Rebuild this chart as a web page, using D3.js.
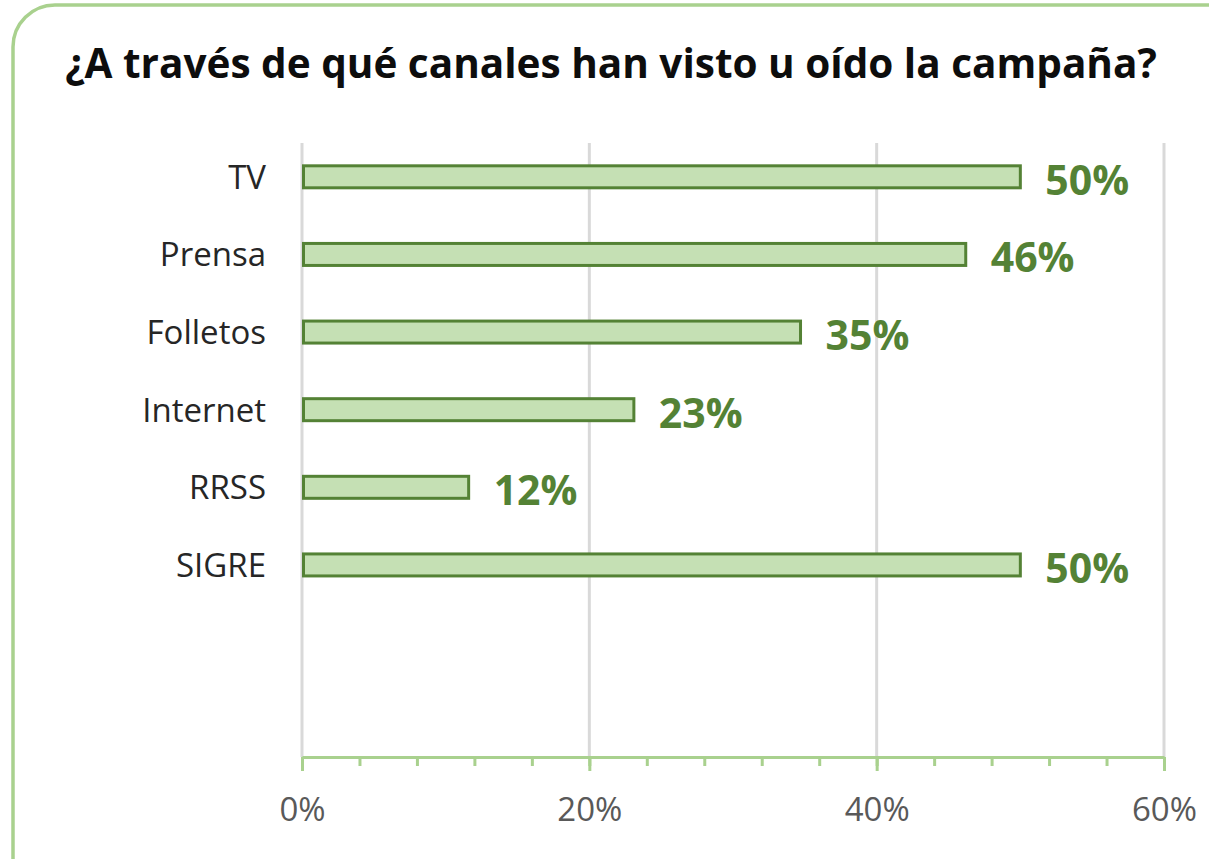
<!DOCTYPE html>
<html>
<head>
<meta charset="utf-8">
<script src="https://cdn.jsdelivr.net/npm/d3@7"></script>
<style>
  body { margin: 0; background: #fff; }
  svg { display: block; }
</style>
</head>
<body>
<div id="container"></div>
<script>
/* CONSTANTS AND GLOBALS */
const width = 1209,
  height = 859;

// data
const categories = ["TV", "Prensa", "Folletos", "Internet", "RRSS", "SIGRE", "", " "];
const values = [0.50, 0.462, 0.347, 0.231, 0.116, 0.50];
const tickValues = [0, 0.2, 0.4, 0.6];
const minorTicks = d3.range(0, 0.6001, 0.04);

const title = "¿A través de qué canales han visto u oído la campaña?";

const font = "'Open Sans', sans-serif";

const svg = d3.select("#container")
  .append("svg")
  .attr("width", width)
  .attr("height", height);

// frame
svg.append("rect")
  .attr("x", 13)
  .attr("y", 5)
  .attr("width", 1240)
  .attr("height", 900)
  .attr("rx", 42)
  .attr("fill", "#fff")
  .attr("stroke", "#a9d18e")
  .attr("stroke-width", 3.5);

/* SCALES */
const xScale = d3.scaleLinear()
  .domain([0, 0.6])
  .range([302, 1164]);

const yScale = d3.scaleBand()
  .domain(categories)
  .range([138, 759])
  .paddingInner(0)
  .paddingOuter(0);

const barH = 22;

// gridlines
svg.append("g")
  .selectAll("line")
  .data(tickValues)
  .join("line")
  .attr("x1", d => xScale(d))
  .attr("x2", d => xScale(d))
  .attr("y1", 143)
  .attr("y2", 757)
  .attr("stroke", "#d9d9d9")
  .attr("stroke-width", 3);

// bars
const rows = values.map((v, i) => ({ cat: categories[i], v }));

svg.selectAll(".bar")
  .data(rows)
  .join("rect")
  .attr("class", "bar")
  .attr("x", xScale(0) + 1.5)
  .attr("y", d => yScale(d.cat) + yScale.bandwidth() / 2 - barH / 2)
  .attr("width", d => xScale(d.v) - xScale(0) - 1.5)
  .attr("height", barH)
  .attr("fill", "#c5e0b4")
  .attr("stroke", "#548235")
  .attr("stroke-width", 3);

// value labels
svg.selectAll(".val")
  .data(rows)
  .join("text")
  .attr("class", "val")
  .attr("x", d => xScale(d.v) + 25)
  .attr("y", d => yScale(d.cat) + yScale.bandwidth() / 2 + 18)
  .attr("fill", "#548235")
  .style("font-family", font)
  .style("font-weight", "bold")
  .style("font-size", "41px")
  .text(d => Math.round(d.v * 100) + "%");

// category axis
const yAxis = svg.append("g")
  .attr("transform", `translate(${xScale(0)},0)`)
  .call(d3.axisLeft(yScale).tickSize(0).tickPadding(36));
yAxis.select(".domain").remove();
yAxis.selectAll("text")
  .attr("fill", "#262626")
  .attr("dy", "0.36em")
  .style("font-family", font)
  .style("font-size", "33px");

// x axis: minor ticks
const axisY = 757;
svg.append("g")
  .attr("transform", `translate(0,${axisY})`)
  .call(d3.axisBottom(xScale).tickValues(minorTicks).tickSize(9).tickFormat(""))
  .call(g => g.selectAll("line").attr("stroke", "#a9d18e").attr("stroke-width", 3))
  .call(g => g.select(".domain").remove());

const xAxis = svg.append("g")
  .attr("transform", `translate(0,${axisY})`)
  .call(d3.axisBottom(xScale).tickValues(tickValues).tickSize(14).tickSizeOuter(0)
    .tickPadding(27).tickFormat(d3.format(".0%")));
xAxis.select(".domain").attr("stroke", "#a9d18e").attr("stroke-width", 3);
xAxis.selectAll("line").attr("stroke", "#a9d18e").attr("stroke-width", 3);
xAxis.selectAll("text")
  .attr("fill", "#595959")
  .style("font-family", font)
  .style("font-size", "33px");

// title
const titleText = svg.append("text")
  .attr("x", 611)
  .attr("y", 78)
  .attr("text-anchor", "middle")
  .attr("fill", "#0d0d0d")
  .style("font-family", font)
  .style("font-weight", "bold")
  .style("font-size", "34px")
  .text(title);
// fit the title to the width it has in the picture
const tw = titleText.node().getComputedTextLength();
titleText.style("font-size", (34 * 1091 / tw).toFixed(1) + "px");
</script>
</body>
</html>
